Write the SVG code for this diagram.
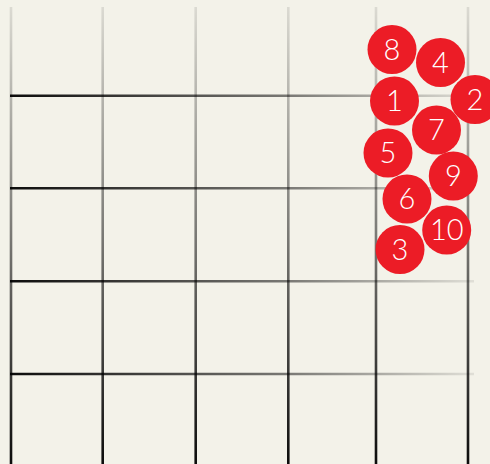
<svg xmlns="http://www.w3.org/2000/svg" width="490" height="464" viewBox="0 0 490 464">
<defs>
<linearGradient id="gv" gradientUnits="userSpaceOnUse" x1="0" y1="7" x2="0" y2="464">
<stop offset="0" stop-color="#000" stop-opacity="0.1"/>
<stop offset="0.5" stop-color="#000" stop-opacity="0.5"/>
<stop offset="1" stop-color="#000" stop-opacity="0.95"/>
</linearGradient>
<linearGradient id="gh" gradientUnits="userSpaceOnUse" x1="10" y1="0" x2="474" y2="0">
<stop offset="0" stop-color="#000" stop-opacity="0.95"/>
<stop offset="0.6" stop-color="#000" stop-opacity="0.5"/>
<stop offset="1" stop-color="#000" stop-opacity="0.08"/>
</linearGradient>
</defs>
<style>
.v{stroke:url(#gv);stroke-width:2.6;fill:none}
.h{stroke:url(#gh);stroke-width:2.6;fill:none}
.c{fill:#ec1c26}
.t{fill:#fff;font-family:Lato,"Open Sans","Liberation Sans",sans-serif;font-weight:300;font-size:29px;text-anchor:middle;dominant-baseline:central}
</style>
<rect width="490" height="464" fill="#f3f2e9"/>
<g id="grid">
<path class="v" d="M11 7V464M102.7 7V464M195.7 7V464M288.3 7V464M376 7V464M468 7V464"/>
<path class="h" d="M10 95.8H474M10 188.3H474M10 281.3H474M10 374H474"/>
</g>
<g id="n8"><circle class="c" cx="392" cy="49.5" r="24.5"/><text class="t" x="392" y="48">8</text></g>
<g id="n4"><circle class="c" cx="440.5" cy="62.5" r="24.5"/><text class="t" x="440.5" y="61">4</text></g>
<g id="n1"><circle class="c" cx="394.5" cy="101" r="24.5"/><text class="t" x="394.5" y="99.5">1</text></g>
<g id="n2"><circle class="c" cx="475" cy="99.5" r="24.5"/><text class="t" x="475" y="98">2</text></g>
<g id="n7"><circle class="c" cx="436.5" cy="130" r="24.5"/><text class="t" x="436.5" y="128.5">7</text></g>
<g id="n5"><circle class="c" cx="388" cy="153" r="24.5"/><text class="t" x="388" y="151.5">5</text></g>
<g id="n9"><circle class="c" cx="453.3" cy="176" r="24.5"/><text class="t" x="453.3" y="174.5">9</text></g>
<g id="n6"><circle class="c" cx="407" cy="199" r="24.5"/><text class="t" x="407" y="197.5">6</text></g>
<g id="n10"><circle class="c" cx="446.7" cy="230" r="24.5"/><text class="t" x="446.7" y="228.5">10</text></g>
<g id="n3"><circle class="c" cx="400" cy="249.5" r="24.5"/><text class="t" x="400" y="248">3</text></g>
</svg>
